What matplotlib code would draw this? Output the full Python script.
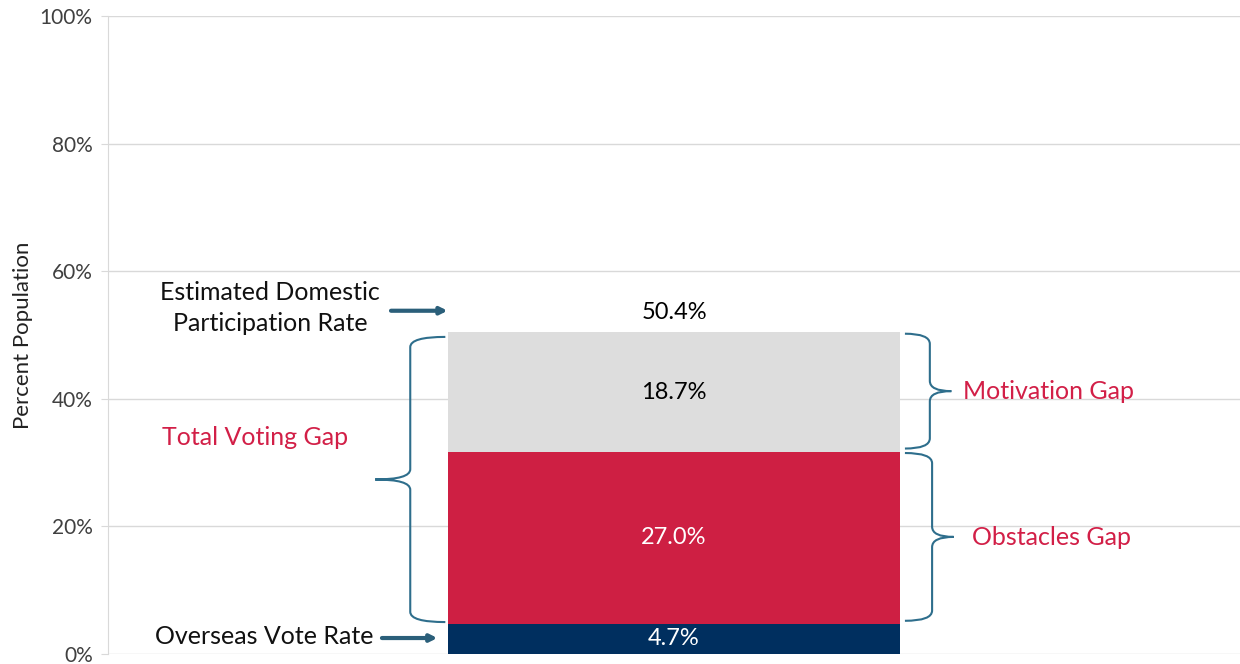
import numpy as np
import matplotlib.pyplot as plt
from matplotlib.path import Path
from matplotlib.patches import PathPatch

plt.rcParams['font.family'] = ['Lato', 'DejaVu Sans']

# data
segments = ['Overseas Vote Rate', 'Obstacles Gap', 'Motivation Gap']
values = [4.7, 27.0, 18.7]
colors = ['#002F5F', '#CE1F43', '#DDDDDD']
label_colors = ['white', 'white', 'black']
total_label = '50.4%'
yticks = [0, 20, 40, 60, 80, 100]

red_txt = '#D21F47'
brace_col = '#2E6E8C'

fig = plt.figure(figsize=(12.4, 6.64), dpi=100)
ax = fig.add_axes([0.0871, 0.0151, 0.9129, 0.9608])

bar_w = 0.4
bottoms = np.concatenate([[0], np.cumsum(values)[:-1]])
for v, b, c, lc in zip(values, bottoms, colors, label_colors):
    ax.bar(0, v, bottom=b, width=bar_w, color=c, zorder=3)
    ax.text(0, b + v / 2, f'{v:.1f}%', ha='center', va='center',
            fontsize=17, color=lc, zorder=4)
top = sum(values)
ax.text(0, top + 3.2, total_label, ha='center', va='center', fontsize=17, color='black')

ax.set_xlim(-0.5, 0.5)
ax.set_ylim(0, 100)
ax.set_yticks(yticks)
ax.set_yticklabels([f'{t}%' for t in yticks], fontsize=15, color='#404040')
ax.set_xticks([])
ax.grid(axis='y', color='#D9D9D9', linewidth=1, zorder=0)
ax.tick_params(axis='y', length=5, color='#D9D9D9', pad=6)
for s in ['top', 'right', 'bottom']:
    ax.spines[s].set_visible(False)
ax.spines['left'].set_color('#D9D9D9')
ax.set_ylabel('Percent Population', fontsize=16, color='#222222')
ax.yaxis.set_label_coords(-0.066, 0.5)


def brace(ax, y0, y1, xe, xv, xt, r=1.6):
    ym = (y0 + y1) / 2
    verts = [(xe, y1), (xv, y1), (xv, y1 - r),
             (xv, ym + r),
             (xv, ym), (xt, ym),
             (xv, ym), (xv, ym - r),
             (xv, y0 + r),
             (xv, y0), (xe, y0)]
    codes = [Path.MOVETO, Path.CURVE3, Path.CURVE3,
             Path.LINETO,
             Path.CURVE3, Path.CURVE3,
             Path.CURVE3, Path.CURVE3,
             Path.LINETO,
             Path.CURVE3, Path.CURVE3]
    ax.add_patch(PathPatch(Path(verts, codes), facecolor='none',
                           edgecolor=brace_col, linewidth=1.5, zorder=5,
                           clip_on=False))


left = -bar_w / 2
right = bar_w / 2
# total voting gap
brace(ax, values[0] + 0.3, top - 0.7, left - 0.002, left - 0.033, left - 0.064)
# obstacles gap
brace(ax, values[0] + 0.5, values[0] + values[1] - 0.2, right + 0.004, right + 0.028, right + 0.047)
# motivation gap
brace(ax, values[0] + values[1] + 0.5, top - 0.2, right + 0.004, right + 0.026, right + 0.045)

ax.text(right + 0.055, values[0] + values[1] + values[2] / 2 + 0.1, 'Motivation Gap',
        ha='left', va='center', fontsize=18, color=red_txt)
ax.text(right + 0.063, values[0] + values[1] / 2 + 0.1, 'Obstacles Gap',
        ha='left', va='center', fontsize=18, color=red_txt)
ax.text(left - 0.17, 34.0, 'Total Voting Gap',
        ha='center', va='center', fontsize=18, color=red_txt)
ax.text(left - 0.157, top + 3.8, 'Estimated Domestic\nParticipation Rate',
        ha='center', va='center', fontsize=18, color='#111111', linespacing=1.4)
ax.text(left - 0.162, 2.8, 'Overseas Vote Rate',
        ha='center', va='center', fontsize=18, color='#111111')

ax.annotate('', xy=(left, top + 3.4), xytext=(left - 0.05, top + 3.4),
            arrowprops=dict(arrowstyle='-|>', color='#2B5F7A', lw=3,
                            mutation_scale=10, shrinkA=0, shrinkB=0),
            annotation_clip=False)
ax.annotate('', xy=(left - 0.009, 2.5), xytext=(left - 0.058, 2.5),
            arrowprops=dict(arrowstyle='-|>', color='#2B5F7A', lw=3,
                            mutation_scale=10, shrinkA=0, shrinkB=0),
            annotation_clip=False)

fig.savefig('out.png', dpi=100)
